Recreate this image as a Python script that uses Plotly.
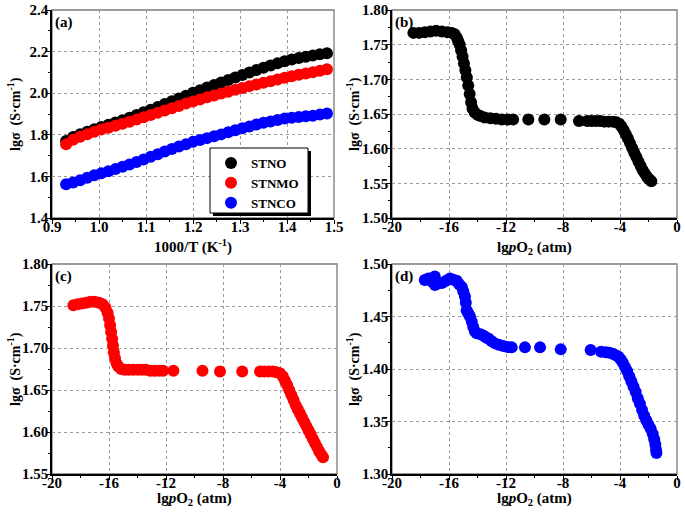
import plotly.graph_objects as go

# ---------------- data ----------------
# panel (a): lg(sigma) vs 1000/T
a_x = [0.930, 0.945, 0.960, 0.975, 0.990, 1.005, 1.020, 1.035, 1.050, 1.065,
       1.080, 1.095, 1.110, 1.125, 1.140, 1.155, 1.170, 1.185, 1.200, 1.215,
       1.230, 1.245, 1.260, 1.275, 1.290, 1.305, 1.320, 1.335, 1.350, 1.365,
       1.380, 1.395, 1.410, 1.425, 1.440, 1.455, 1.470, 1.485]
a_stno = [1.770, 1.789, 1.803, 1.815, 1.827, 1.838, 1.848, 1.859, 1.870, 1.882,
          1.895, 1.908, 1.921, 1.934, 1.948, 1.961, 1.975, 1.988, 2.002, 2.014,
          2.027, 2.039, 2.051, 2.063, 2.075, 2.087, 2.099, 2.111, 2.122, 2.133,
          2.144, 2.154, 2.162, 2.169, 2.175, 2.181, 2.187, 2.192]
a_stnmo = [1.754, 1.776, 1.791, 1.803, 1.815, 1.825, 1.834, 1.843, 1.853, 1.863,
           1.873, 1.884, 1.895, 1.906, 1.917, 1.928, 1.939, 1.950, 1.960, 1.970,
           1.980, 1.989, 1.998, 2.007, 2.016, 2.025, 2.034, 2.042, 2.050, 2.058,
           2.066, 2.074, 2.082, 2.089, 2.095, 2.101, 2.108, 2.115]
a_stnco = [1.562, 1.571, 1.582, 1.594, 1.605, 1.615, 1.625, 1.635, 1.646, 1.657,
           1.669, 1.681, 1.694, 1.707, 1.720, 1.732, 1.744, 1.755, 1.766, 1.775,
           1.784, 1.793, 1.802, 1.812, 1.822, 1.831, 1.840, 1.850, 1.858, 1.864,
           1.871, 1.878, 1.882, 1.886, 1.889, 1.892, 1.897, 1.902]

# panel (b): STNO vs lg pO2
b_x = [-18.5, -18.1, -17.7, -17.3, -16.9, -16.5, -16.1, -15.8, -15.6,
       -15.45, -15.35, -15.25, -15.15, -15.05, -14.95, -14.85, -14.75, -14.65,
       -14.55, -14.45, -14.35, -14.2, -14.0, -13.8, -13.5, -13.1, -12.7, -12.3,
       -11.9, -11.5,
       -10.43, -9.31, -8.16, -6.88,
       -6.3, -6.0, -5.7, -5.4, -5.1, -4.8, -4.5, -4.25, -4.05, -3.9, -3.75,
       -3.6, -3.45, -3.3, -3.15, -3.0, -2.85, -2.7, -2.55, -2.4, -2.25, -2.1,
       -1.95, -1.8]
b_y = [1.767, 1.767, 1.768, 1.769, 1.770, 1.769, 1.768, 1.767, 1.765,
       1.760, 1.755, 1.750, 1.742, 1.733, 1.723, 1.713, 1.703, 1.691,
       1.679, 1.667, 1.658, 1.652, 1.649, 1.647, 1.645, 1.644, 1.643, 1.642,
       1.642, 1.642,
       1.642, 1.642, 1.642, 1.640,
       1.640, 1.640, 1.640, 1.640, 1.639, 1.639, 1.639, 1.638, 1.636, 1.632, 1.627,
       1.621, 1.615, 1.608, 1.601, 1.594, 1.588, 1.581, 1.575, 1.569, 1.564, 1.559,
       1.556, 1.553]

# panel (c): STNMO vs lg pO2
c_x = [-18.5, -18.2, -17.9, -17.6, -17.3, -17.0, -16.7, -16.45, -16.25, -16.1,
       -16.0, -15.92, -15.85, -15.78, -15.72, -15.66, -15.58, -15.48, -15.35,
       -15.15, -14.9, -14.6, -14.3, -14.0, -13.7, -13.4, -13.1, -12.8, -12.5,
       -12.2, -11.48,
       -9.44, -8.21, -6.65,
       -5.4, -5.1, -4.8, -4.5, -4.25, -4.0, -3.8, -3.65, -3.5, -3.35, -3.2,
       -3.05, -2.9, -2.75, -2.6, -2.45, -2.3, -2.15, -2.0, -1.85, -1.7, -1.55,
       -1.4, -1.25, -1.1, -0.98]
c_y = [1.751, 1.752, 1.753, 1.754, 1.755, 1.755, 1.754, 1.752, 1.748, 1.742,
       1.735, 1.727, 1.719, 1.711, 1.703, 1.695, 1.688, 1.682, 1.678,
       1.675, 1.674, 1.674, 1.674, 1.674, 1.674, 1.674, 1.673, 1.673, 1.673,
       1.673, 1.673,
       1.673, 1.672, 1.672,
       1.672, 1.672, 1.672, 1.672, 1.671, 1.670, 1.666, 1.661, 1.656, 1.650, 1.644,
       1.638, 1.632, 1.627, 1.622, 1.617, 1.612, 1.607, 1.602, 1.597, 1.592, 1.587,
       1.582, 1.577, 1.573, 1.570]

# panel (d): STNCO vs lg pO2
d_x = [-17.7, -17.45, -17.2, -17.0, -16.98, -16.75, -16.5, -16.2, -15.93, -15.7,
       -15.46, -15.3, -15.1, -15.0, -14.88, -14.82, -14.76, -14.65, -14.53, -14.4,
       -14.3, -14.18, -14.06, -13.8, -13.6, -13.4, -13.24, -13.0, -12.77, -12.5,
       -12.19, -11.9, -11.6,
       -10.67, -9.61, -8.16, -6.06,
       -5.33, -5.0, -4.75, -4.5, -4.3, -4.1, -3.95, -3.8, -3.65, -3.5, -3.35,
       -3.2, -3.05, -2.9, -2.75, -2.6, -2.45, -2.3, -2.15, -2.0, -1.85, -1.7,
       -1.6, -1.52, -1.47, -1.44]
d_y = [1.4848, 1.4863, 1.4830, 1.4880, 1.4800, 1.4816, 1.4820, 1.4840, 1.4863, 1.4850,
       1.4840, 1.4810, 1.4780, 1.4740, 1.4690, 1.4630, 1.4560, 1.4530, 1.4500, 1.4450,
       1.4400, 1.4360, 1.4340, 1.4330, 1.4320, 1.4300, 1.4290, 1.4265, 1.4244, 1.4230,
       1.4220, 1.4210, 1.4206,
       1.4206, 1.4206, 1.4187, 1.4180,
       1.4165, 1.4160, 1.4155, 1.4145, 1.4130, 1.4117, 1.4090, 1.4060, 1.4020, 1.3980, 1.3930,
       1.3880, 1.3830, 1.3780, 1.3720, 1.3670, 1.3610, 1.3555, 1.3510, 1.3470, 1.3430, 1.3380,
       1.3330, 1.3280, 1.3230, 1.3200]

series_names = ["STNO", "STNMO", "STNCO"]
series_colors = ["#000000", "#ff0000", "#0000ff"]
panel_labels = ["(a)", "(b)", "(c)", "(d)"]

a_xticks = [0.9, 1.0, 1.1, 1.2, 1.3, 1.4, 1.5]
a_yticks = [1.4, 1.6, 1.8, 2.0, 2.2, 2.4]
p_xticks = [-20, -16, -12, -8, -4, 0]
p_xtext = ["-20", "-16", "-12", "-8", "-4", "0"]
b_yticks = [1.50, 1.55, 1.60, 1.65, 1.70, 1.75, 1.80]
c_yticks = [1.55, 1.60, 1.65, 1.70, 1.75, 1.80]
d_yticks = [1.30, 1.35, 1.40, 1.45, 1.50]

a_xtitle = "1000/T (K<sup>-1</sup>)"
p_xtitle = "lg<i>p</i>O<sub>2</sub> (atm)"
ytitle = "lgσ  (S·cm<sup>-1</sup>)"

# ---------------- figure ----------------
W, H = 685, 515
FONT = "Liberation Serif"
MS = 12

fig = go.Figure()

for name, col, ys in zip(series_names, series_colors, [a_stno, a_stnmo, a_stnco]):
    fig.add_trace(go.Scatter(x=a_x, y=ys, mode="markers", name=name,
                             marker=dict(color=col, size=MS, line=dict(width=0)),
                             xaxis="x", yaxis="y"))

for xs, ys, col, ax in [(b_x, b_y, series_colors[0], "2"),
                        (c_x, c_y, series_colors[1], "3"),
                        (d_x, d_y, series_colors[2], "4")]:
    fig.add_trace(go.Scatter(x=xs, y=ys, mode="markers", showlegend=False,
                             marker=dict(color=col, size=MS, line=dict(width=0)),
                             xaxis="x" + ax, yaxis="y" + ax))


def px_x(p):
    return p / W


def px_y(p):
    return 1 - p / H


def axis(domain, rng, vals, text, minor_dtick, anchor, fmt, standoff):
    if text is None:
        text = [format(v, fmt) for v in vals]
    return dict(
        domain=domain, range=rng, anchor=anchor, automargin=False,
        tickmode="array", tickvals=vals, ticktext=text,
        showgrid=True, gridcolor="#9a9a9a", griddash="dot", gridwidth=1,
        zeroline=False, showline=True, linecolor="black", linewidth=1.5,
        ticks="outside", ticklen=4, tickwidth=1.2, tickcolor="black",
        ticklabelstandoff=standoff, ticklabeloverflow="allow",
        minor=dict(tick0=rng[0], dtick=minor_dtick, ticks="outside", ticklen=2,
                   tickwidth=1, tickcolor="black", showgrid=False),
        tickfont=dict(family=FONT, size=15, color="black", weight="bold"),
    )


top_dom = [px_y(218), px_y(10)]
bot_dom = [px_y(474), px_y(264)]
left_dom = [px_x(52), px_x(334)]
left_dom_c = [px_x(52), px_x(337)]
right_dom = [px_x(392), px_x(677)]

XS, YS = -10, -5
fig.update_layout(
    width=W, height=H, autosize=False,
    margin=dict(l=0, r=0, t=0, b=0),
    paper_bgcolor="white", plot_bgcolor="white",
    font=dict(family=FONT, color="black"),
    xaxis=axis(left_dom, [0.9, 1.5], a_xticks, None, 0.05, "y", ".1f", XS),
    yaxis=axis(top_dom, [1.4, 2.4], a_yticks, None, 0.1, "x", ".1f", YS),
    xaxis2=axis(right_dom, [-20, 0], p_xticks, p_xtext, 2, "y2", "d", XS),
    yaxis2=axis(top_dom, [1.50, 1.80], b_yticks, None, 0.025, "x2", ".2f", YS),
    xaxis3=axis(left_dom_c, [-20, 0], p_xticks, p_xtext, 2, "y3", "d", XS),
    yaxis3=axis(bot_dom, [1.55, 1.80], c_yticks, None, 0.025, "x3", ".2f", YS),
    xaxis4=axis(right_dom, [-20, 0], p_xticks, p_xtext, 2, "y4", "d", XS),
    yaxis4=axis(bot_dom, [1.30, 1.50], d_yticks, None, 0.025, "x4", ".2f", YS),
    legend=dict(x=px_x(211), y=px_y(148), xanchor="left", yanchor="top",
                bgcolor="rgba(0,0,0,0)", borderwidth=0,
                font=dict(family=FONT, size=13, color="black", weight="bold"),
                tracegroupgap=0, itemwidth=30),
    showlegend=True,
)

shapes = []
annotations = []
xtitle_font = dict(family=FONT, size=15, color="black", weight="bold")
ytitle_font = dict(family=FONT, size=14, color="black", weight="bold")
xtitles = [a_xtitle, p_xtitle, p_xtitle, p_xtitle]
xtitle_y = [247, 248, 499, 499]
ytitle_x = [14, 353, 14, 353]
for i, suf in enumerate(["", "2", "3", "4"]):
    # gray frame (top/right sides visible; left/bottom covered by black axis lines)
    shapes.append(dict(type="rect", xref="x" + suf + " domain", yref="y" + suf + " domain",
                       x0=0, x1=1, y0=0, y1=1, line=dict(color="#7a7a7a", width=1.3),
                       layer="below"))
    annotations.append(dict(text=panel_labels[i], xref="x" + suf + " domain",
                            yref="y" + suf + " domain", x=0.003, y=0.99,
                            xanchor="left", yanchor="top", showarrow=False,
                            font=dict(family=FONT, size=15, color="black", weight="bold")))
    annotations.append(dict(text=xtitles[i], xref="x" + suf + " domain", yref="paper",
                            x=0.5, y=px_y(xtitle_y[i]), xanchor="center", yanchor="middle",
                            showarrow=False, font=xtitle_font))
    annotations.append(dict(text=ytitle, xref="paper", yref="y" + suf + " domain",
                            x=px_x(ytitle_x[i]), y=0.5, xanchor="center", yanchor="middle",
                            textangle=-90, showarrow=False, font=ytitle_font))

# legend frame with a drop shadow (legend entries are drawn on top of it)
shapes.append(dict(type="rect", xref="paper", yref="paper",
                   x0=px_x(213), x1=px_x(311), y0=px_y(216), y1=px_y(151),
                   fillcolor="black", line=dict(width=0), layer="above"))
shapes.append(dict(type="rect", xref="paper", yref="paper",
                   x0=px_x(210), x1=px_x(308), y0=px_y(213), y1=px_y(148),
                   fillcolor="white", line=dict(color="black", width=1), layer="above"))

fig.update_layout(shapes=shapes, annotations=annotations)

# the page body has a default 8px margin; remove it so the figure sits at (0, 0)
fig.write_html("out.html",
               config={"displayModeBar": False},
               post_script="document.body.style.margin='0px';document.body.style.padding='0px';")
